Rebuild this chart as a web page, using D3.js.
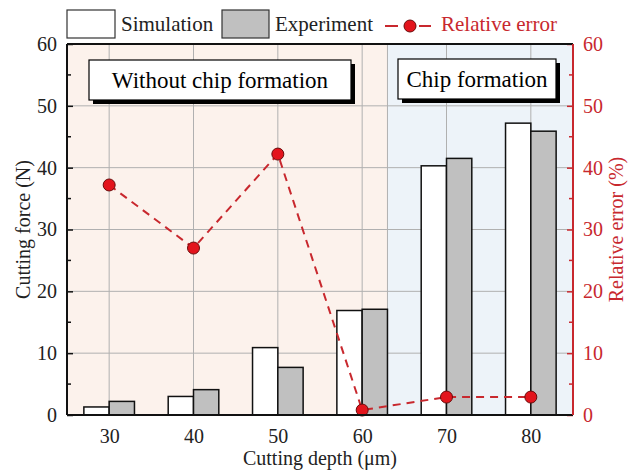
<!DOCTYPE html>
<html>
<head>
<meta charset="utf-8">
<script src="https://cdn.jsdelivr.net/npm/d3@7"></script>
<style>
  body { margin: 0; background: #fff; }
  text { font-family: "Liberation Serif", "Times New Roman", serif; }
</style>
</head>
<body>
<svg id="chart" width="629" height="472"></svg>
<script>
// data
var depths = [30, 40, 50, 60, 70, 80];
var simulation = [1.3, 3.0, 10.9, 16.9, 40.3, 47.2];
var experiment = [2.2, 4.1, 7.7, 17.1, 41.5, 45.9];
var relError = [37.2, 27.0, 42.2, 0.8, 2.9, 2.9];
var yTicks = [0, 10, 20, 30, 40, 50, 60];
var regionSplit = 63;

var red = "#c8282e";
var svg = d3.select("#chart");

// plot box (note: "top" is a reserved window property, so use other names)
var pL = 67, pR = 573, pT = 44, pB = 415;

var x = d3.scaleLinear().domain([25, 85]).range([pL, pR]);
var y = d3.scaleLinear().domain([0, 60]).range([pB, pT]);
var yR = d3.scaleLinear().domain([0, 60]).range([pB, pT]);

// background regions
svg.append("rect")
  .attr("x", x(25)).attr("y", pT)
  .attr("width", x(regionSplit) - x(25)).attr("height", pB - pT)
  .attr("fill", "#fcf2ec");
svg.append("rect")
  .attr("x", x(regionSplit)).attr("y", pT)
  .attr("width", x(85) - x(regionSplit)).attr("height", pB - pT)
  .attr("fill", "#edf3f9");

// grid
svg.append("g").selectAll("line").data(yTicks.slice(1, -1)).enter().append("line")
  .attr("x1", pL).attr("x2", pR)
  .attr("y1", function(d) { return y(d); }).attr("y2", function(d) { return y(d); })
  .attr("stroke", "#b0b0b0").attr("stroke-width", 1);
svg.append("g").selectAll("line").data(depths.concat([regionSplit])).enter().append("line")
  .attr("x1", function(d) { return x(d); }).attr("x2", function(d) { return x(d); })
  .attr("y1", pT).attr("y2", pB)
  .attr("stroke", "#b0b0b0").attr("stroke-width", 1);

// bars
var bw = 3;
svg.append("g").selectAll("rect").data(simulation).enter().append("rect")
  .attr("x", function(d, i) { return x(depths[i] - bw); })
  .attr("y", function(d) { return y(d); })
  .attr("width", x(bw) - x(0))
  .attr("height", function(d) { return pB - y(d); })
  .attr("fill", "#fff").attr("stroke", "#111").attr("stroke-width", 1.5);
svg.append("g").selectAll("rect").data(experiment).enter().append("rect")
  .attr("x", function(d, i) { return x(depths[i]); })
  .attr("y", function(d) { return y(d); })
  .attr("width", x(bw) - x(0))
  .attr("height", function(d) { return pB - y(d); })
  .attr("fill", "#c0c0c0").attr("stroke", "#111").attr("stroke-width", 1.5);

// relative error line
var line = d3.line()
  .x(function(d, i) { return x(depths[i]); })
  .y(function(d) { return yR(d); });
svg.append("path").datum(relError)
  .attr("d", line)
  .attr("fill", "none").attr("stroke", red).attr("stroke-width", 2)
  .attr("stroke-dasharray", "8,6");
svg.append("g").selectAll("circle").data(relError).enter().append("circle")
  .attr("cx", function(d, i) { return x(depths[i]); })
  .attr("cy", function(d) { return yR(d); })
  .attr("r", 6)
  .attr("fill", "#e3141c").attr("stroke", "#6a0a0a").attr("stroke-width", 1);

// annotation boxes
function labelBox(x0, y0, w, h, txt) {
  svg.append("rect").attr("x", x0 + 4).attr("y", y0 + 4).attr("width", w).attr("height", h).attr("fill", "#000");
  svg.append("rect").attr("x", x0).attr("y", y0).attr("width", w).attr("height", h)
    .attr("fill", "#fff").attr("stroke", "#000").attr("stroke-width", 1.2);
  svg.append("text").attr("x", x0 + w / 2).attr("y", y0 + h / 2 + 8)
    .attr("text-anchor", "middle").attr("font-size", 23).text(txt);
}
labelBox(89, 60, 262, 40, "Without chip formation");
labelBox(398, 59, 158, 40, "Chip formation");

// axes
var yAxis = d3.axisLeft(y).tickValues(yTicks).tickSize(-6).tickPadding(10);
var gL = svg.append("g").attr("transform", "translate(" + pL + ",0)").call(yAxis)
  .attr("font-family", "Liberation Serif");
gL.select(".domain").remove();
gL.selectAll("text").attr("font-size", 20).attr("fill", "#222");
gL.selectAll("line").attr("stroke", "#111").attr("stroke-width", 1.5);
gL.append("g").selectAll("line").data(d3.range(5, 60, 10)).enter().append("line")
  .attr("x1", 0).attr("x2", 4)
  .attr("y1", function(d) { return y(d); }).attr("y2", function(d) { return y(d); })
  .attr("stroke", "#111").attr("stroke-width", 1.5);

var yAxisR = d3.axisRight(yR).tickValues(yTicks).tickSize(-6).tickPadding(10);
var gR = svg.append("g").attr("transform", "translate(" + pR + ",0)").call(yAxisR)
  .attr("font-family", "Liberation Serif");
gR.select(".domain").remove();
gR.selectAll("text").attr("font-size", 20).attr("fill", red);
gR.selectAll("line").attr("stroke", red).attr("stroke-width", 1.5);
gR.append("g").selectAll("line").data(d3.range(5, 60, 10)).enter().append("line")
  .attr("x1", 0).attr("x2", -4)
  .attr("y1", function(d) { return yR(d); }).attr("y2", function(d) { return yR(d); })
  .attr("stroke", red).attr("stroke-width", 1.5);

var xAxis = d3.axisBottom(x).tickValues(depths).tickSize(0).tickPadding(14);
var gB = svg.append("g").attr("transform", "translate(0," + pB + ")").call(xAxis)
  .attr("font-family", "Liberation Serif");
gB.select(".domain").remove();
gB.selectAll("text").attr("font-size", 20).attr("fill", "#222");

// frame
svg.append("line").attr("x1", pL).attr("x2", pR).attr("y1", pT).attr("y2", pT)
  .attr("stroke", "#111").attr("stroke-width", 2);
svg.append("line").attr("x1", pL).attr("x2", pR).attr("y1", pB).attr("y2", pB)
  .attr("stroke", "#111").attr("stroke-width", 2);
svg.append("line").attr("x1", pL).attr("x2", pL).attr("y1", pT).attr("y2", pB)
  .attr("stroke", "#111").attr("stroke-width", 2);
svg.append("line").attr("x1", pR).attr("x2", pR).attr("y1", pT).attr("y2", pB)
  .attr("stroke", red).attr("stroke-width", 2);

// axis titles
svg.append("text").attr("transform", "translate(30," + ((pT + pB) / 2) + ") rotate(-90)")
  .attr("text-anchor", "middle").attr("font-size", 20).attr("fill", "#222").text("Cutting force (N)");
svg.append("text").attr("transform", "translate(623," + ((pT + pB) / 2) + ") rotate(-90)")
  .attr("text-anchor", "middle").attr("font-size", 20).attr("fill", red).text("Relative error (%)");
svg.append("text").attr("x", (pL + pR) / 2).attr("y", 465)
  .attr("text-anchor", "middle").attr("font-size", 20).attr("fill", "#222").text("Cutting depth (\u03bcm)");

// legend
var lg = svg.append("g");
lg.append("rect").attr("x", 67).attr("y", 10).attr("width", 48).attr("height", 28)
  .attr("fill", "#fff").attr("stroke", "#333").attr("stroke-width", 1.2);
lg.append("text").attr("x", 121).attr("y", 31).attr("font-size", 21).attr("fill", "#222").text("Simulation");
lg.append("rect").attr("x", 222).attr("y", 10).attr("width", 47).attr("height", 28)
  .attr("fill", "#c0c0c0").attr("stroke", "#333").attr("stroke-width", 1.2);
lg.append("text").attr("x", 275).attr("y", 31).attr("font-size", 21).attr("fill", "#222").text("Experiment");
lg.append("line").attr("x1", 385).attr("x2", 398).attr("y1", 26).attr("y2", 26)
  .attr("stroke", red).attr("stroke-width", 2);
lg.append("line").attr("x1", 419).attr("x2", 431).attr("y1", 26).attr("y2", 26)
  .attr("stroke", red).attr("stroke-width", 2);
lg.append("circle").attr("cx", 410).attr("cy", 26).attr("r", 6)
  .attr("fill", "#e3141c").attr("stroke", "#6a0a0a").attr("stroke-width", 1);
lg.append("text").attr("x", 441).attr("y", 31).attr("font-size", 21).attr("fill", red).text("Relative error");
</script>
</body>
</html>
